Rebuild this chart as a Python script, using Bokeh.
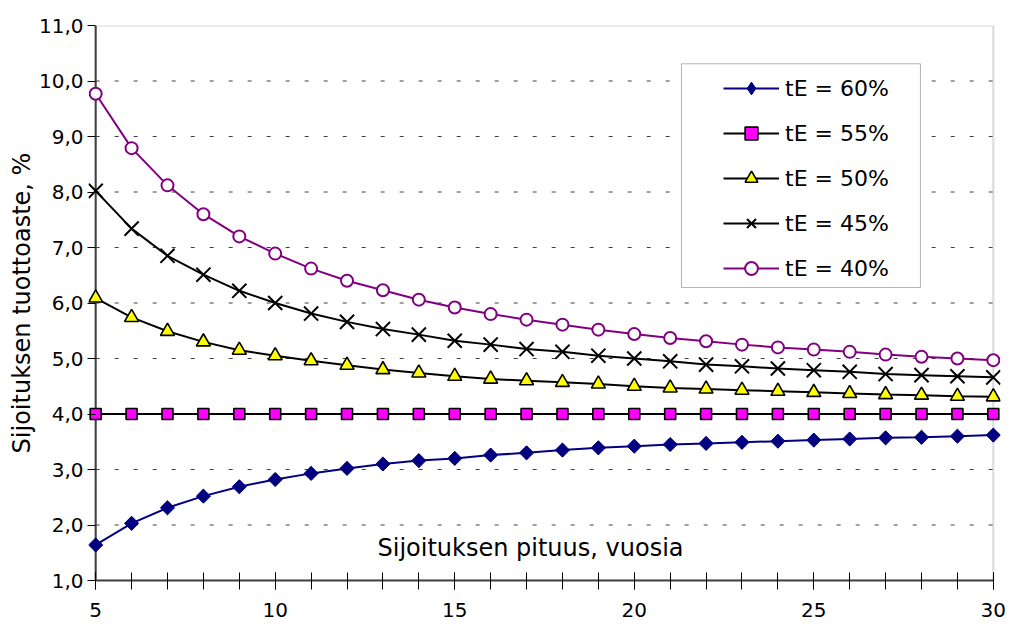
from bokeh.plotting import figure
from bokeh.models import FixedTicker, Legend, LegendItem, Label, BoxAnnotation, Range1d, Span
from bokeh.embed import file_html
from bokeh.resources import INLINE
import math

# ---------------- data ----------------
years = [5, 6, 7, 8, 9, 10, 11, 12, 13, 14, 15, 16, 17, 18, 19, 20,
         21, 22, 23, 24, 25, 26, 27, 28, 29, 30]

te60 = [1.64, 2.03, 2.31, 2.52, 2.69, 2.82, 2.93, 3.02, 3.10, 3.16, 3.20, 3.26, 3.30,
        3.35, 3.39, 3.42, 3.45, 3.47, 3.49, 3.51, 3.53, 3.55, 3.57, 3.58, 3.60, 3.62]
te55 = [4.00, 4.00, 4.00, 4.00, 4.00, 4.00, 4.00, 4.00, 4.00, 4.00, 4.00, 4.00, 4.00,
        4.00, 4.00, 4.00, 4.00, 4.00, 4.00, 4.00, 4.00, 4.00, 4.00, 4.00, 4.00, 4.00]
te50 = [6.09, 5.74, 5.49, 5.30, 5.15, 5.05, 4.96, 4.88, 4.80, 4.74, 4.68, 4.63, 4.60,
        4.57, 4.54, 4.50, 4.47, 4.45, 4.43, 4.41, 4.39, 4.37, 4.35, 4.34, 4.32, 4.31]
te45 = [8.02, 7.34, 6.85, 6.51, 6.22, 6.00, 5.81, 5.66, 5.53, 5.43, 5.32, 5.25, 5.17,
        5.12, 5.05, 5.00, 4.95, 4.89, 4.86, 4.82, 4.79, 4.76, 4.72, 4.70, 4.68, 4.66]
te40 = [9.77, 8.79, 8.12, 7.60, 7.20, 6.89, 6.62, 6.40, 6.23, 6.06, 5.92, 5.80, 5.70,
        5.61, 5.52, 5.44, 5.37, 5.31, 5.25, 5.20, 5.16, 5.12, 5.07, 5.03, 5.00, 4.97]

series_labels = ["tE = 60%", "tE = 55%", "tE = 50%", "tE = 45%", "tE = 40%"]
series_values = [te60, te55, te50, te45, te40]

x_major_ticks = [5, 10, 15, 20, 25, 30]
x_minor_ticks = [5, 6, 7, 8, 9, 10, 11, 12, 13, 14, 15, 16, 17, 18, 19, 20,
                 21, 22, 23, 24, 25, 26, 27, 28, 29, 30]
y_ticks = [1, 2, 3, 4, 5, 6, 7, 8, 9, 10, 11]
y_tick_labels = ["1,0", "2,0", "3,0", "4,0", "5,0", "6,0", "7,0", "8,0", "9,0", "10,0", "11,0"]

x_title = "Sijoituksen pituus, vuosia"
y_title = "Sijoituksen tuottoaste, %"

# ---------------- styles ----------------
FONT = "DejaVu Sans"
styles = [
    dict(line="#000080", marker="square", size=10, fill="#000080", mline="#000080", angle=math.pi / 4, mlw=1, legend_marker="diamond"),
    dict(line="#000000", marker="square", size=11, fill="#FF00FF", mline="#000000", angle=0, mlw=1.6, legend_marker=None),
    dict(line="#000000", marker="triangle", size=14, fill="#FFFF00", mline="#000000", angle=0, mlw=1.6, legend_marker=None),
    dict(line="#000000", marker="x", size=20, fill=None, mline="#000000", angle=0, mlw=2, legend_marker=None),
    dict(line="#800080", marker="circle", size=12, fill="#FFFFFF", mline="#800080", angle=0, mlw=2, legend_marker=None),
]

x_pad = 0.2  # small extra room so the edge markers are not cut by the frame
p = figure(width=1010, height=632, output_backend="svg", toolbar_location=None,
           x_range=Range1d(years[0] - x_pad, years[-1] + x_pad),
           y_range=Range1d(y_ticks[0], y_ticks[-1]),
           min_border_left=88, min_border_right=10, min_border_top=25, min_border_bottom=52)

p.background_fill_color = "white"
p.border_fill_color = "white"
p.outline_line_color = None
p.grid.visible = False

# plot-area border (top / right in gray)
p.add_layout(BoxAnnotation(left=years[0], right=years[-1], bottom=y_ticks[0], top=y_ticks[-1],
                           fill_alpha=0, line_color="#808080", line_width=2, level="underlay"))

# dashed horizontal gridlines spanning the axis extent
p.segment(x0=years[0], x1=years[-1], y0=y_ticks[1:-1], y1=y_ticks[1:-1],
          line_color="#404040", line_width=1, line_dash="4 15", level="underlay")

# value axis line at the first year
p.add_layout(Span(location=years[0], dimension="height", line_color="#404040", line_width=2,
                  level="underlay"))

# axes
p.xaxis.ticker = FixedTicker(ticks=x_major_ticks, minor_ticks=x_minor_ticks)
p.xaxis.bounds = (years[0], years[-1])
p.yaxis.ticker = FixedTicker(ticks=y_ticks)
p.yaxis.major_label_overrides = {t: lab for t, lab in zip(y_ticks, y_tick_labels)}

for ax in (p.xaxis, p.yaxis):
    ax.major_tick_line_color = "#000000"
    ax.major_label_text_font = FONT
    ax.major_label_text_font_size = "20px"
    ax.major_label_text_color = "#000000"

p.xaxis.axis_line_color = "#404040"
p.xaxis.axis_line_width = 2
p.xaxis.major_tick_in = 8
p.xaxis.major_tick_out = 9
p.xaxis.minor_tick_in = 8
p.xaxis.minor_tick_out = 9
p.xaxis.minor_tick_line_color = "#000000"
p.xaxis.major_label_standoff = 13

p.yaxis.axis_line_color = None
p.yaxis.major_tick_in = 7
p.yaxis.major_tick_out = 1
p.yaxis.minor_tick_line_color = None
p.yaxis.major_label_standoff = 4
p.yaxis.axis_label = y_title
p.yaxis.axis_label_text_font = FONT
p.yaxis.axis_label_text_font_size = "24px"
p.yaxis.axis_label_text_font_style = "normal"
p.yaxis.axis_label_text_color = "#000000"
p.yaxis.axis_label_standoff = 0

# series
items = []
for lab, vals, st in zip(series_labels, series_values, styles):
    lr = p.line(years, vals, line_color=st["line"], line_width=2)
    rends = [lr]
    if st["legend_marker"]:
        # diamond drawn underneath the rotated square: it gives the legend key its shape
        dr = p.scatter(years, vals, marker=st["legend_marker"], size=13, fill_color=st["fill"],
                       line_color=st["mline"], line_width=1)
        rends.append(dr)
    sr = p.scatter(years, vals, marker=st["marker"], size=st["size"], angle=st["angle"],
                   fill_color=st["fill"], line_color=st["mline"], line_width=st["mlw"])
    if not st["legend_marker"]:
        rends.append(sr)
    items.append(LegendItem(label=lab, renderers=rends))

# x-axis title inside the plot area
p.add_layout(Label(x=17.11, y=1.58, text=x_title, text_align="center",
                   text_baseline="alphabetic", text_font=FONT, text_font_size="24px",
                   text_color="#000000"))

# legend box
p.add_layout(BoxAnnotation(left=21.315, right=27.97, top=10.31, bottom=6.28,
                           fill_color="white", fill_alpha=1.0, line_color="#000000", line_width=1))

legend = Legend(items=items, location=(635, 296), padding=0, margin=0, spacing=13,
                glyph_width=56, glyph_height=32, label_height=32, label_standoff=6,
                label_text_font=FONT, label_text_font_size="22px", label_text_color="#000000",
                border_line_alpha=0, background_fill_alpha=0)
p.add_layout(legend, "center")

open("out.html", "w").write(file_html(p, INLINE))
